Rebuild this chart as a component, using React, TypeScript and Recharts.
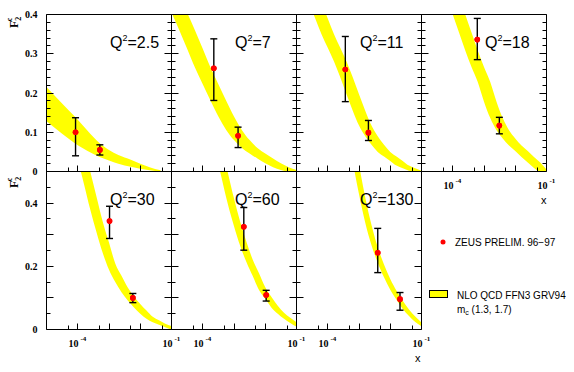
import React from 'react';
import { ComposedChart, Area, Scatter, ErrorBar, XAxis, YAxis, ReferenceLine } from 'recharts';

const PAGE_W = 574;
const PAGE_H = 372;

const Q2_LABELS = ['2.5', '7', '11', '18', '30', '60', '130'];

const X_DOMAIN: [number, number] = [1e-5, 1e-1];
const X_TICKS = [5e-5, 1e-4, 5e-4, 1e-3, 5e-3, 1e-2, 5e-2, 1e-1];
const X_LABEL_VALUES = [1e-4, 1e-1];
const X_LABEL_EXPONENTS = ['-4', '-1'];

const TOP_Y_TICKS = [0, 0.02, 0.04, 0.06, 0.08, 0.1, 0.12, 0.14, 0.16, 0.18, 0.2, 0.22, 0.24, 0.26, 0.28, 0.3, 0.32, 0.34, 0.36, 0.38, 0.4];
const TOP_Y_LABEL_VALUES = [0, 0.1, 0.2, 0.3, 0.4];
const TOP_Y_LABELS = ['0', '0.1', '0.2', '0.3', '0.4'];
const BOTTOM_Y_TICKS = [0, 0.05, 0.1, 0.15, 0.2, 0.25, 0.3, 0.35, 0.4, 0.45, 0.5];
const BOTTOM_Y_LABEL_VALUES = [0, 0.2, 0.4];
const BOTTOM_Y_LABELS = ['0', '0.2', '0.4'];

// ---- NLO QCD bands (log10 x, lower, upper) ----
const B1_LOGX = [-5, -4.7, -4.3, -4, -3.7, -3.3, -3, -2.7, -2.3, -2, -1.7, -1.35];
const B1_LOW = [0.128, 0.109, 0.084, 0.067, 0.053, 0.037, 0.028, 0.02, 0.012, 0.007, 0.003, 0];
const B1_HIGH = [0.215, 0.19, 0.157, 0.132, 0.105, 0.072, 0.055, 0.042, 0.03, 0.02, 0.011, 0.003];

const B2_LOGX = [-5, -4.75, -4.5, -4.25, -4, -3.75, -3.5, -3.25, -3, -2.75, -2.5, -2.25, -2, -1.75, -1.5, -1.25, -1];
const B2_LOW = [0.405, 0.36, 0.313, 0.265, 0.222, 0.18, 0.14, 0.106, 0.08, 0.06, 0.046, 0.033, 0.021, 0.011, 0.004, 0, 0];
const B2_HIGH = [0.5, 0.453, 0.405, 0.36, 0.313, 0.265, 0.222, 0.18, 0.14, 0.106, 0.08, 0.06, 0.046, 0.033, 0.021, 0.011, 0.004];

const B3_LOGX = [-5, -4.8, -4.6, -4.4, -4.2, -4, -3.8, -3.6, -3.4, -3.2, -3, -2.8, -2.6, -2.4, -2.2, -2, -1.8, -1.6, -1.4, -1.2, -1];
const B3_LOW = [0.52, 0.47, 0.43, 0.39, 0.35, 0.315, 0.28, 0.24, 0.197, 0.155, 0.117, 0.09, 0.068, 0.05, 0.038, 0.027, 0.015, 0.008, 0.002, 0, 0];
const B3_HIGH = [0.6, 0.56, 0.52, 0.47, 0.43, 0.39, 0.35, 0.315, 0.28, 0.24, 0.197, 0.155, 0.117, 0.09, 0.068, 0.05, 0.038, 0.027, 0.015, 0.008, 0.002];

const B4_LOGX = [-4.2, -4, -3.8, -3.6, -3.4, -3.2, -3, -2.8, -2.6, -2.4, -2.2, -2, -1.8, -1.6, -1.4, -1.2, -1];
const B4_LOW = [0.445, 0.4, 0.354, 0.308, 0.266, 0.228, 0.178, 0.136, 0.105, 0.084, 0.066, 0.052, 0.037, 0.023, 0.009, 0, 0];
const B4_HIGH = [0.53, 0.489, 0.445, 0.4, 0.354, 0.308, 0.266, 0.228, 0.178, 0.136, 0.105, 0.084, 0.066, 0.052, 0.037, 0.023, 0.005];

const B5_LOGX = [-4, -3.8, -3.6, -3.4, -3.2, -3, -2.8, -2.6, -2.4, -2.2, -2, -1.8, -1.6, -1.4, -1.2, -1];
const B5_LOW = [0.538, 0.46, 0.38, 0.308, 0.242, 0.189, 0.15, 0.118, 0.092, 0.07, 0.05, 0.034, 0.023, 0.015, 0.007, 0];
const B5_HIGH = [0.65, 0.575, 0.5, 0.42, 0.341, 0.275, 0.209, 0.17, 0.133, 0.104, 0.081, 0.06, 0.04, 0.029, 0.018, 0.011];

const B6_LOGX = [-3.6, -3.4, -3.2, -3, -2.8, -2.6, -2.4, -2.2, -2, -1.8, -1.6, -1.4, -1.2, -1];
const B6_LOW = [0.568, 0.481, 0.398, 0.327, 0.264, 0.213, 0.169, 0.125, 0.097, 0.069, 0.05, 0.034, 0.0205, 0.009];
const B6_HIGH = [0.672, 0.585, 0.498, 0.415, 0.34, 0.277, 0.221, 0.178, 0.134, 0.103, 0.075, 0.053, 0.037, 0.023];

const B7_LOGX = [-3.2, -3, -2.8, -2.6, -2.4, -2.2, -2, -1.8, -1.6, -1.4, -1.2, -1];
const B7_LOW = [0.531, 0.428, 0.338, 0.267, 0.211, 0.165, 0.126, 0.094, 0.065, 0.043, 0.024, 0.01];
const B7_HIGH = [0.625, 0.521, 0.418, 0.331, 0.26, 0.206, 0.16, 0.123, 0.091, 0.063, 0.041, 0.022];

// ---- ZEUS data points (x, F2c, lower end, upper end of error bar) ----
const D1_X = [8.5e-5, 5.1e-4];
const D1_Y = [0.1, 0.055];
const D1_LO = [0.04, 0.042];
const D1_HI = [0.137, 0.068];

const D2_X = [2.26e-4, 1.35e-3];
const D2_Y = [0.263, 0.091];
const D2_LO = [0.181, 0.061];
const D2_HI = [0.338, 0.113];

const D3_X = [3.65e-4, 2.0e-3];
const D3_Y = [0.26, 0.099];
const D3_LO = [0.178, 0.079];
const D3_HI = [0.344, 0.13];

const D4_X = [6.1e-4, 3.1e-3];
const D4_Y = [0.336, 0.117];
const D4_LO = [0.285, 0.096];
const D4_HI = [0.39, 0.138];

const D5_X = [1.04e-3, 5.8e-3];
const D5_Y = [0.343, 0.1];
const D5_LO = [0.288, 0.085];
const D5_HI = [0.39, 0.114];

const D6_X = [2.06e-3, 1.07e-2];
const D6_Y = [0.325, 0.109];
const D6_LO = [0.251, 0.09];
const D6_HI = [0.386, 0.124];

const D7_X = [3.98e-3, 2.05e-2];
const D7_Y = [0.243, 0.096];
const D7_LO = [0.18, 0.061];
const D7_HI = [0.32, 0.117];

type PanelCfg = {
  L: number; T: number; W: number; H: number;
  yMax: number; yTicks: number[]; yLabelVals: number[]; yLabels: string[];
  showY: boolean; showX: boolean; q: string;
  bx: number[]; bl: number[]; bh: number[];
  px: number[]; py: number[]; plo: number[]; phi: number[];
};

const TOP_T = 14.5, TOP_H = 157, BOT_T = 171.5, BOT_H = 158, PW = 125;
const LEFTS = [46.5, 171.5, 296.5, 421.5];

const topRow = (i: number, bx: number[], bl: number[], bh: number[], px: number[], py: number[], plo: number[], phi: number[], showX: boolean): PanelCfg => ({
  L: LEFTS[i], T: TOP_T, W: PW, H: TOP_H, yMax: 0.4, yTicks: TOP_Y_TICKS, yLabelVals: TOP_Y_LABEL_VALUES, yLabels: TOP_Y_LABELS,
  showY: i === 0, showX, q: Q2_LABELS[i], bx, bl, bh, px, py, plo, phi,
});
const botRow = (i: number, bx: number[], bl: number[], bh: number[], px: number[], py: number[], plo: number[], phi: number[]): PanelCfg => ({
  L: LEFTS[i], T: BOT_T, W: PW, H: BOT_H, yMax: 0.5, yTicks: BOTTOM_Y_TICKS, yLabelVals: BOTTOM_Y_LABEL_VALUES, yLabels: BOTTOM_Y_LABELS,
  showY: i === 0, showX: true, q: Q2_LABELS[4 + i], bx, bl, bh, px, py, plo, phi,
});

const PANELS: PanelCfg[] = [
  topRow(0, B1_LOGX, B1_LOW, B1_HIGH, D1_X, D1_Y, D1_LO, D1_HI, false),
  topRow(1, B2_LOGX, B2_LOW, B2_HIGH, D2_X, D2_Y, D2_LO, D2_HI, false),
  topRow(2, B3_LOGX, B3_LOW, B3_HIGH, D3_X, D3_Y, D3_LO, D3_HI, false),
  topRow(3, B4_LOGX, B4_LOW, B4_HIGH, D4_X, D4_Y, D4_LO, D4_HI, true),
  botRow(0, B5_LOGX, B5_LOW, B5_HIGH, D5_X, D5_Y, D5_LO, D5_HI),
  botRow(1, B6_LOGX, B6_LOW, B6_HIGH, D6_X, D6_Y, D6_LO, D6_HI),
  botRow(2, B7_LOGX, B7_LOW, B7_HIGH, D7_X, D7_Y, D7_LO, D7_HI),
];

const SERIF = '"Liberation Serif", "DejaVu Serif", serif';
const SANS = '"Liberation Sans", Arial, sans-serif';

const crisp = (v: number) => Math.round(v - 0.5) + 0.5;
const AX = 1; // axis band size reserved by each axis

function makeXTick(c: PanelCfg) {
  return (props: any) => {
    const { x, payload } = props;
    const v = payload.value as number;
    const lg = Math.log10(v);
    const decade = Math.abs(lg - Math.round(lg)) < 1e-6;
    const atEdge = Math.abs(v - X_DOMAIN[1]) / v < 1e-6;
    const len = atEdge ? 0 : decade ? 6 : 4;
    const px = crisp(x);
    const base = c.T + c.H;
    const li = X_LABEL_VALUES.findIndex((t) => Math.abs(t - v) / t < 1e-6);
    return (
      <g>
        {len > 0 && <line x1={px} x2={px} y1={base} y2={base - len} stroke="#000" strokeWidth={1} />}
        {c.showX && li >= 0 && (
          <text y={base + 17} fontFamily={SERIF} fontWeight="bold" fontSize={10} fill="#000">
            <tspan x={px + 1} textAnchor="end">10</tspan>
            <tspan x={px + 3} dy={-6} fontSize={7}>{X_LABEL_EXPONENTS[li]}</tspan>
          </text>
        )}
      </g>
    );
  };
}

function makeYTick(c: PanelCfg, side: 'left' | 'right') {
  return (props: any) => {
    const { y, payload } = props;
    const v = payload.value as number;
    const major = Math.abs(v * 10 - Math.round(v * 10)) < 1e-6;
    const len = major ? 7 : 4;
    const py = crisp(y);
    const x0 = side === 'left' ? c.L : c.L + c.W;
    const x1 = side === 'left' ? c.L + len : c.L + c.W - len;
    const li = c.yLabelVals.findIndex((t) => Math.abs(t - v) < 1e-9);
    return (
      <g>
        <line x1={x0} x2={x1} y1={py} y2={py} stroke="#000" strokeWidth={1} />
        {side === 'left' && c.showY && li >= 0 && (
          <text x={c.L - 9} y={py + 3.5} textAnchor="end" fontFamily={SERIF} fontWeight="bold" fontSize={10} fill="#000">
            {c.yLabels[li]}
          </text>
        )}
      </g>
    );
  };
}

const dot = (p: any) => <circle cx={p.cx} cy={p.cy} r={2.8} fill="#ff0000" />;

function Panel({ c }: { c: PanelCfg }) {
  const band = c.bx.map((l, i) => ({ x: Math.pow(10, l), range: [c.bl[i], c.bh[i]] }));
  const pts = c.px.map((x, i) => ({ x, y: c.py[i], err: [c.py[i] - c.plo[i], c.phi[i] - c.py[i]] }));
  return (
    <div style={{ position: 'absolute', left: 0, top: 0 }}>
      <ComposedChart
        width={PAGE_W}
        height={PAGE_H}
        data={band}
        margin={{ left: c.L - AX, top: c.T, right: PAGE_W - c.L - c.W - AX, bottom: PAGE_H - c.T - c.H - AX }}
      >
        <Area dataKey="range" type="monotone" fill="#ffff00" fillOpacity={1} stroke="none" isAnimationActive={false} dot={false} activeDot={false} />
        <Scatter data={pts} dataKey="y" isAnimationActive={false} shape={dot}>
          <ErrorBar dataKey="err" direction="y" width={3.5} stroke="#000" strokeWidth={1.4} />
        </Scatter>
        <Scatter data={pts} dataKey="y" isAnimationActive={false} shape={dot} />
        <XAxis
          dataKey="x"
          type="number"
          scale="log"
          domain={X_DOMAIN}
          allowDataOverflow
          ticks={X_TICKS}
          interval={0}
          height={AX}
          tickLine={false}
          axisLine={{ stroke: '#000', strokeWidth: 1 }}
          tick={makeXTick(c)}
        />
        <YAxis
          type="number"
          domain={[0, c.yMax]}
          allowDataOverflow
          ticks={c.yTicks}
          interval={0}
          width={AX}
          tickLine={false}
          axisLine={{ stroke: '#000', strokeWidth: 1 }}
          tick={makeYTick(c, 'left')}
        />
        <YAxis
          yAxisId="r"
          orientation="right"
          type="number"
          domain={[0, c.yMax]}
          allowDataOverflow
          ticks={c.yTicks}
          interval={0}
          width={AX}
          tickLine={false}
          axisLine={{ stroke: '#000', strokeWidth: 1 }}
          tick={makeYTick(c, 'right')}
        />
        <ReferenceLine y={c.yMax} stroke="#000" strokeWidth={1} />
      </ComposedChart>
    </div>
  );
}

function F2cLabel({ x, y }: { x: number; y: number }) {
  return (
    <text transform={`translate(${x}, ${y}) rotate(-90)`} fontFamily={SERIF} fontWeight="bold" fontSize={12} fill="#000">
      F<tspan fontSize={8} dy={3}>2</tspan>
      <tspan fontSize={8} dx={-4.5} dy={-9}>c</tspan>
    </text>
  );
}

export default function App() {
  return (
    <div style={{ position: 'absolute', left: 0, top: 0, width: PAGE_W, height: PAGE_H, background: '#fff', overflow: 'hidden' }}>
      {PANELS.map((c, i) => (
        <Panel key={i} c={c} />
      ))}
      <svg width={PAGE_W} height={PAGE_H} style={{ position: 'absolute', left: 0, top: 0, pointerEvents: 'none' }}>
        {PANELS.map((c, i) => (
          <text key={i} x={c.L + 63.5} y={c.T + 33} fontFamily={SANS} fontSize={16} fill="#000">
            Q<tspan fontSize={9} dy={-7}>2</tspan>
            <tspan dy={7}>={c.q}</tspan>
          </text>
        ))}
        <F2cLabel x={18} y={28} />
        <F2cLabel x={18} y={188} />
        <text x={541} y={204} fontFamily={SANS} fontSize={11} fill="#000">x</text>
        <text x={415} y={362} fontFamily={SANS} fontSize={11} fill="#000">x</text>
        <circle cx={443} cy={242} r={2.5} fill="#ff0000" />
        <text x={455} y={245.5} fontFamily={SANS} fontSize={10} fill="#000">ZEUS PRELIM. 96−97</text>
        <rect x={429.5} y={290.5} width={18} height={7} fill="#ffff00" stroke="#000" strokeWidth={1} />
        <text x={457} y={298.5} fontFamily={SANS} fontSize={10} fill="#000">NLO QCD FFN3 GRV94</text>
        <text x={457} y={313} fontFamily={SANS} fontSize={10} fill="#000">
          m<tspan fontSize={7} dy={2}>c</tspan>
          <tspan dy={-2}> (1.3, 1.7)</tspan>
        </text>
      </svg>
    </div>
  );
}
